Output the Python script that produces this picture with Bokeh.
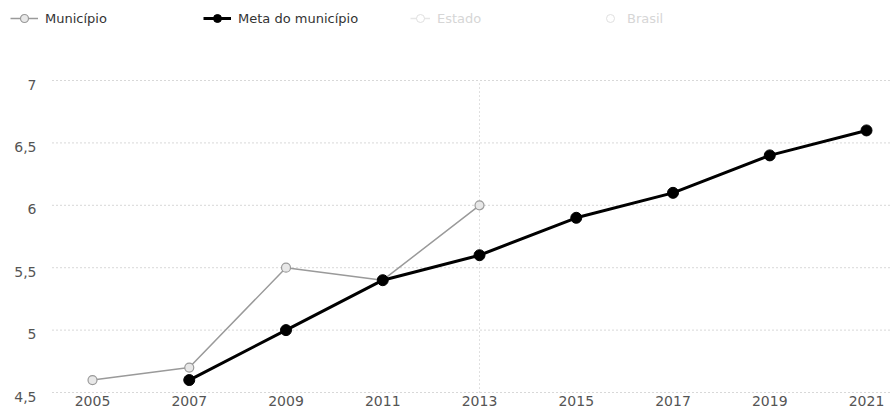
from bokeh.plotting import figure
from bokeh.models import Legend, LegendItem, ColumnDataSource
from bokeh.core.properties import value
from bokeh.embed import file_html
from bokeh.resources import INLINE

years_mun = [2005, 2007, 2009, 2011, 2013]
ideb_mun = [4.6, 4.7, 5.5, 5.4, 6.0]
years_meta = [2007, 2009, 2011, 2013, 2015, 2017, 2019, 2021]
ideb_meta = [4.6, 5.0, 5.4, 5.6, 5.9, 6.1, 6.4, 6.6]
x_ticks = [2005, 2007, 2009, 2011, 2013, 2015, 2017, 2019, 2021]
x_labels = ["2005", "2007", "2009", "2011", "2013", "2015", "2017", "2019", "2021"]
y_ticks = [4.5, 5, 5.5, 6, 6.5, 7]
y_labels = ["4,5", "5", "5,5", "6", "6,5", "7"]
legend_names = ["Município", "Meta do município", "Estado", "Brasil"]
highlight_year = 2013

FONT = "DejaVu Sans"
X_START, X_END = 2003.098, 2021.496
GRID_START = 2004.173

p = figure(width=890, height=408, output_backend="svg", toolbar_location=None,
           x_range=(X_START, X_END), y_range=(4.372, 7.641),
           x_axis_location=None, y_axis_location=None,
           min_border_left=0, min_border_right=0, min_border_top=0, min_border_bottom=0)
p.outline_line_color = None
p.background_fill_color = "white"
p.grid.visible = False

# horizontal dotted grid lines and y labels
n = len(y_ticks)
p.segment(x0=[GRID_START] * n, y0=y_ticks, x1=[X_END] * n, y1=y_ticks,
          line_color="#b0b0b0", line_dash="1 3", line_width=1)
p.text(x=[GRID_START] * n, y=y_ticks, text=y_labels, x_offset=-16, y_offset=4,
       text_align="right", text_baseline="middle", text_color="#555555",
       text_font=value(FONT), text_font_size="14px")

# x labels under the lowest grid line
m = len(x_ticks)
p.text(x=x_ticks, y=[y_ticks[0]] * m, text=x_labels, y_offset=3,
       text_align="center", text_baseline="top", text_color="#555555",
       text_font=value(FONT), text_font_size="14px")

# vertical highlight line at the last measured year
p.segment(x0=[highlight_year], y0=[y_ticks[0]], x1=[highlight_year], y1=[y_ticks[-1]],
          line_color="#c0c0c0", line_dash="1 3", line_width=1)

src_mun = ColumnDataSource(dict(x=years_mun, y=ideb_mun))
src_meta = ColumnDataSource(dict(x=years_meta, y=ideb_meta))

l_mun = p.line("x", "y", source=src_mun, line_color="#9a9a9a", line_width=1.5)
c_mun = p.scatter("x", "y", source=src_mun, size=9, fill_color="#e8e8e8",
                  line_color="#9a9a9a", line_width=1.2)
l_meta = p.line("x", "y", source=src_meta, line_color="black", line_width=3)
c_meta = p.scatter("x", "y", source=src_meta, size=11, fill_color="black", line_color="black")

l_est = p.line([highlight_year], [0], line_color="#e6e6e6", line_width=1.5)
c_est = p.scatter([highlight_year], [0], size=7, fill_color="white", line_color="#e0e0e0")
l_br = p.line([highlight_year], [0], line_color="#ffffff", line_width=1.5)
c_br = p.scatter([highlight_year], [0], size=7, fill_color="white", line_color="#e0e0e0")

leg1 = Legend(items=[LegendItem(label=legend_names[0], renderers=[l_mun, c_mun]),
                     LegendItem(label=legend_names[1], renderers=[l_meta, c_meta])],
              orientation="horizontal", location=(10, 380),
              label_text_font=FONT, label_text_font_size="13px",
              label_text_color="#333333", label_width=148, spacing=10,
              glyph_width=28, label_standoff=7, border_line_color=None,
              background_fill_alpha=0, padding=0, margin=0)
leg2 = Legend(items=[LegendItem(label=legend_names[2], renderers=[l_est, c_est]),
                     LegendItem(label=legend_names[3], renderers=[l_br, c_br])],
              orientation="horizontal", location=(410, 380),
              label_text_font=FONT, label_text_font_size="13px",
              label_text_color="#d6d6d6", label_width=153, spacing=10,
              glyph_width=20, label_standoff=7, border_line_color=None,
              background_fill_alpha=0, padding=0, margin=0)
p.add_layout(leg1)
p.add_layout(leg2)

open("out.html", "w").write(file_html(p, INLINE))
